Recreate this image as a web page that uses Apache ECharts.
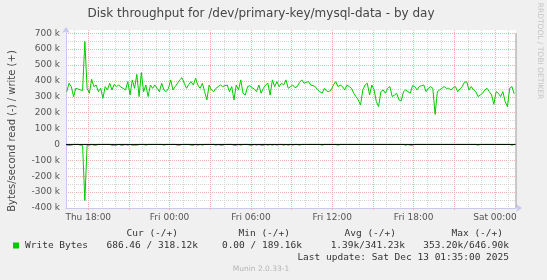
<!DOCTYPE html>
<html><head><meta charset="utf-8">
<script src="https://cdn.jsdelivr.net/npm/echarts@6/dist/echarts.min.js"></script>
<style>html,body{margin:0;padding:0;background:#f0f0f0}#c{width:547px;height:280px}</style>
</head><body><div id="c"></div>
<script>
// ---------- data ----------
const chartTitle = "Disk throughput for /dev/primary-key/mysql-data - by day";
const yAxisTitle = "Bytes/second read (-) / write (+)";
const startHour = 16 + 25 / 60;   // Thu 16:25 (hours counted from Thu 00:00)
const stepHours = 10 / 60;        // 10-minute samples
// write bytes/s, in k
const writeK = [
332,385,364,301,353,349,343,340,647,353,
322,410,364,374,332,353,290,364,343,385,
343,378,364,374,360,353,343,395,311,406,
353,441,301,452,332,374,301,374,353,374,
353,332,385,343,332,353,406,343,364,385,
406,420,385,353,378,395,374,416,374,353,
385,332,280,374,343,332,353,364,374,364,
370,374,332,364,280,374,343,406,322,311,
364,370,357,349,332,374,322,353,374,385,
311,406,364,395,364,385,374,406,353,
364,374,357,364,391,406,385,391,395,374,370,
364,343,332,322,353,336,332,343,374,395,
364,374,364,343,374,364,353,322,301,280,
248,343,374,385,311,374,343,269,238,332,
343,322,353,364,301,311,322,280,273,332,
343,332,322,370,364,343,364,370,374,332,
353,364,353,189,332,343,353,364,353,353,
343,357,364,332,349,364,391,395,343,364,
343,332,301,311,322,343,353,332,311,252,
332,322,301,332,269,238,353,364,318
];
// read bytes/s, in k (drawn negative)
const readK = [
5,5,5,0,0,0,5,5,353,5,
5,0,5,5,0,0,0,0,0,0,
5,5,5,0,5,5,0,5,0,5,
5,5,0,0,0,5,0,0,0,0,
0,0,0,5,0,0,0,0,0,5,
5,0,0,0,0,5,5,0,5,0,
5,0,0,0,0,0,5,0,5,5,
0,0,0,0,5,5,0,5,0,0,
0,5,5,0,5,0,5,5,0,5,
0,5,0,5,0,0,5,0,5,
0,5,0,0,5,0,0,0,0,0,0,
0,0,0,5,0,0,0,0,0,0,
5,0,0,0,0,0,0,0,0,0,
0,0,0,0,0,0,0,0,0,0,
0,0,0,0,0,0,0,0,0,0,
5,0,5,5,0,0,0,0,0,0,
0,0,0,0,0,0,0,0,0,0,
0,0,0,0,0,0,0,0,0,0,
0,0,5,0,0,0,0,0,0,0,
0,0,0,0,0,0,0,5,0
];
const xLabelHours = [18, 24, 30, 36, 42, 48];
const xLabelText = ["Thu 18:00", "Fri 00:00", "Fri 06:00", "Fri 12:00", "Fri 18:00", "Sat 00:00"];
const yLabelValues = [-400000,-300000,-200000,-100000,0,100000,200000,300000,400000,500000,600000,700000];
const legendName = "Write Bytes";
const legendHeaders = ["Cur (-/+)", "Min (-/+)", "Avg (-/+)", "Max (-/+)"];
const legendValues = ["686.46 / 318.12k", "0.00 / 189.16k", "1.39k/341.23k", "353.20k/646.90k"];
const lastUpdate = "Last update: Sat Dec 13 01:35:00 2025";
const versionText = "Munin 2.0.33-1";
const creditText = "RRDTOOL / TOBI OETIKER";

// ---------- layout ----------
const X_MIN = 16.36, X_MAX = 49.55;
const Y_MIN = -400000, Y_MAX = 720000;
const GREEN = '#00cc00';
const headerRight = [178, 290, 396, 503];
const valueRight = [198, 302, 405, 509];
const MONO = '"DejaVu Sans Mono", monospace';
const SANS = '"DejaVu Sans", sans-serif';
const RED_GRID = '#f6b0b0', GRAY_GRID = '#d4d4d4';

const minorHours = [], majorHours = [];
for (let h = Math.ceil(X_MIN); h <= Math.floor(X_MAX); h++) (h % 3 === 0 ? majorHours : minorHours).push(h);
const yMinor = [], yMajor = [];
for (let v = -350000; v < 700000; v += 100000) yMinor.push(v);
for (let v = -300000; v <= 700000; v += 100000) yMajor.push(v);

const writeData = writeK.map((v, i) => [startHour + i * stepHours, v * 1000]);
const readData = readK.map((v, i) => [startHour + i * stepHours, -v * 1000]);

const chart = echarts.init(document.getElementById('c'), null, {renderer: 'canvas'});
const graphic = [
  {type: 'text', x: 261, y: 14, style: {text: chartTitle, font: '12px ' + SANS, fill: '#454545', textAlign: 'center', textVerticalAlign: 'middle'}},
  {type: 'text', x: 12, y: 131, rotation: Math.PI / 2, style: {text: yAxisTitle, font: '10px ' + SANS, fill: '#484848', textAlign: 'center', textVerticalAlign: 'middle'}},
  {type: 'text', x: 539.5, y: 51, rotation: -Math.PI / 2, style: {text: creditText, font: '7.5px ' + SANS, fill: '#c4c4c4', textAlign: 'center', textVerticalAlign: 'middle'}},
  {type: 'rect', shape: {x: 13, y: 242.5, width: 6, height: 6}, style: {fill: GREEN}},
  {type: 'text', x: 25, y: 245.5, style: {text: legendName, font: '9.5px ' + MONO, fill: '#333', textAlign: 'left', textVerticalAlign: 'middle'}},
  {type: 'text', x: 509, y: 257.5, style: {text: lastUpdate, font: '9.5px ' + MONO, fill: '#333', textAlign: 'right', textVerticalAlign: 'middle'}},
  {type: 'text', x: 261, y: 269.5, style: {text: versionText, font: '7.5px ' + SANS, fill: '#b4b4b4', textAlign: 'center', textVerticalAlign: 'middle'}}
];
legendHeaders.forEach((t, i) => graphic.push({type: 'text', x: headerRight[i], y: 234, style: {text: t, font: '9.5px ' + MONO, fill: '#333', textAlign: 'right', textVerticalAlign: 'middle'}}));
legendValues.forEach((t, i) => graphic.push({type: 'text', x: valueRight[i], y: 245.5, style: {text: t, font: '9.5px ' + MONO, fill: '#333', textAlign: 'right', textVerticalAlign: 'middle'}}));

chart.setOption({
  animation: false,
  backgroundColor: '#f0f0f0',
  grid: {left: 66, right: 31, top: 30, bottom: 72, show: true, backgroundColor: '#ffffff', borderWidth: 0},
  xAxis: [
    {type: 'value', min: X_MIN, max: X_MAX, position: 'bottom',
     axisLine: {show: true, onZero: false, lineStyle: {color: '#c8c8f0'}, symbol: ['none', 'arrow'], symbolSize: [6, 6], symbolOffset: [0, 6]},
     axisTick: {show: false, customValues: minorHours},
     axisLabel: {show: false},
     splitLine: {show: true, lineStyle: {color: GRAY_GRID, type: [1, 1], width: 1}}},
    {type: 'value', min: X_MIN, max: X_MAX, position: 'bottom',
     axisLine: {show: false, onZero: false},
     axisTick: {show: true, customValues: majorHours, length: 2, lineStyle: {color: RED_GRID}},
     axisLabel: {show: true, customValues: xLabelHours, margin: 5, color: '#555', fontFamily: SANS, fontSize: 9,
       formatter: v => { const i = xLabelHours.findIndex(h => Math.abs(h - v) < 1e-6); return i >= 0 ? xLabelText[i] : ''; }},
     splitLine: {show: true, lineStyle: {color: RED_GRID, type: [1, 1], width: 1}}}
  ],
  yAxis: [
    {type: 'value', min: Y_MIN, max: Y_MAX, position: 'left',
     axisLine: {show: true, onZero: false, lineStyle: {color: '#c8c8f0'}, symbol: ['none', 'arrow'], symbolSize: [6, 6], symbolOffset: [0, 3]},
     axisTick: {show: false, customValues: yMajor},
     axisLabel: {customValues: yLabelValues, margin: 6, color: '#555', fontFamily: SANS, fontSize: 9,
       formatter: v => v === 0 ? '0' : (v / 1000) + ' k'},
     splitLine: {show: true, lineStyle: {color: RED_GRID, type: [1, 1], width: 1}}},
    {type: 'value', min: Y_MIN, max: Y_MAX, position: 'left',
     axisLine: {show: false, onZero: false}, axisTick: {show: false, customValues: yMinor}, axisLabel: {show: false},
     splitLine: {show: true, lineStyle: {color: GRAY_GRID, type: [1, 1], width: 1}}}
  ],
  series: [
    {type: 'line', name: legendName, data: writeData, xAxisIndex: 0, yAxisIndex: 0, showSymbol: false, symbol: 'none',
     lineStyle: {color: GREEN, width: 1}, itemStyle: {color: GREEN}, z: 3},
    {type: 'line', name: 'read', data: readData, xAxisIndex: 0, yAxisIndex: 0, showSymbol: false, symbol: 'none',
     lineStyle: {color: GREEN, width: 1}, itemStyle: {color: GREEN}, z: 3},
    {type: 'line', name: 'zero', data: [[X_MIN, 0], [X_MAX, 0]], xAxisIndex: 0, yAxisIndex: 0, showSymbol: false, symbol: 'none',
     lineStyle: {color: '#000000', width: 1}, z: 5, silent: true},
    {type: 'line', name: 'edge', data: [[X_MAX, Y_MIN], [X_MAX, 700000]], xAxisIndex: 0, yAxisIndex: 0, showSymbol: false, symbol: 'none',
     lineStyle: {color: '#999999', width: 1}, z: 5, silent: true, clip: false}
  ],
  graphic: graphic
});
</script></body></html>
